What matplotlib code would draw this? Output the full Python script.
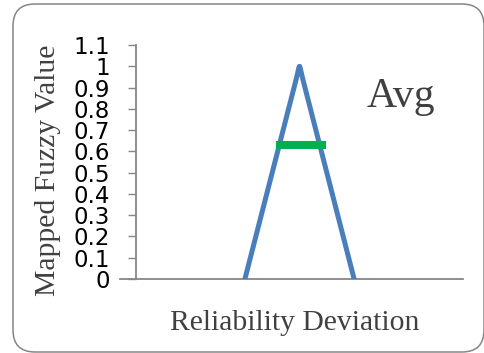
import matplotlib
matplotlib.use("Agg")
import matplotlib.pyplot as plt
from matplotlib.patches import FancyBboxPatch, PathPatch
from matplotlib.path import Path

# Data
x_membership = [0.333, 0.5, 0.667]
y_membership = [0.0, 1.0, 0.0]
avg_x = [0.428, 0.581]
avg_y = [0.63, 0.63]
y_ticks = [0, 0.1, 0.2, 0.3, 0.4, 0.5, 0.6, 0.7, 0.8, 0.9, 1.0, 1.1]
y_tick_labels = ["0", "0.1", "0.2", "0.3", "0.4", "0.5", "0.6", "0.7", "0.8", "0.9", "1", "1.1"]

W, H = 485, 353
fig = plt.figure(figsize=(W / 100, H / 100), dpi=100)
fig.patch.set_facecolor("white")

ax = fig.add_axes([120 / W, 1 - 279 / H, (463 - 120) / W, (279 - 45) / H])
ax.set_facecolor("none")

# smoothed membership line (rounded peak, like Excel's smoothed line)
f = 0.93
k = 4.0 / 3.0
(x0, x1, x2), (y0, y1, y2) = x_membership, y_membership
a = (x0 + f * (x1 - x0), y0 + f * (y1 - y0))
b = (x2 + f * (x1 - x2), y2 + f * (y1 - y2))
c1 = (a[0] + k * (x1 - a[0]), a[1] + k * (y1 - a[1]))
c2 = (b[0] + k * (x1 - b[0]), b[1] + k * (y1 - b[1]))
verts = [(x0, y0), a, c1, c2, b, (x2, y2)]
codes = [Path.MOVETO, Path.LINETO, Path.CURVE4, Path.CURVE4, Path.CURVE4, Path.LINETO]
ax.add_patch(PathPatch(Path(verts, codes), facecolor="none", edgecolor="#4A7EBB",
                       lw=3.6, joinstyle="round", capstyle="round", zorder=3))
ax.plot(avg_x, avg_y, color="#00B050", lw=5.8, solid_capstyle="butt", zorder=4)

ax.set_xlim(-0.049, 1.0)
ax.set_ylim(0, 1.1)
ax.set_yticks(y_ticks)
ax.set_yticklabels(y_tick_labels)
ax.set_xticks([])
for s in ["top", "right"]:
    ax.spines[s].set_visible(False)
ax.spines["left"].set_position(("data", 0))
ax.spines["left"].set_color("#868686")
ax.spines["bottom"].set_color("#868686")
ax.spines["left"].set_linewidth(1.3)
ax.spines["bottom"].set_linewidth(1.3)
ax.tick_params(axis="y", direction="out", length=6, width=1.0, color="#868686",
               pad=13, labelsize=16.5, labelcolor="black")
for lab in ax.get_yticklabels():
    lab.set_fontfamily("DejaVu Sans")

serif = "Liberation Serif"
fig.text(295 / W, 1 - 330 / H, "Reliability Deviation", ha="center", va="baseline",
         fontfamily=serif, fontsize=21.3, color="#404040")
fig.text(48 / W, 1 - 170.5 / H, "Mapped Fuzzy Value", ha="center", va="center",
         rotation=90, fontfamily=serif, fontsize=21.3, color="#404040")
fig.text(367 / W, 1 - 107 / H, "Avg", ha="left", va="baseline",
         fontfamily=serif, fontsize=30, color="#404040")

border = FancyBboxPatch((13, 1), 471, 348, boxstyle="round,pad=0,rounding_size=22",
                        transform=None, facecolor="none", edgecolor="#868686", lw=1.1)
fig.patches.append(border)

fig.savefig("out.png", dpi=100)
